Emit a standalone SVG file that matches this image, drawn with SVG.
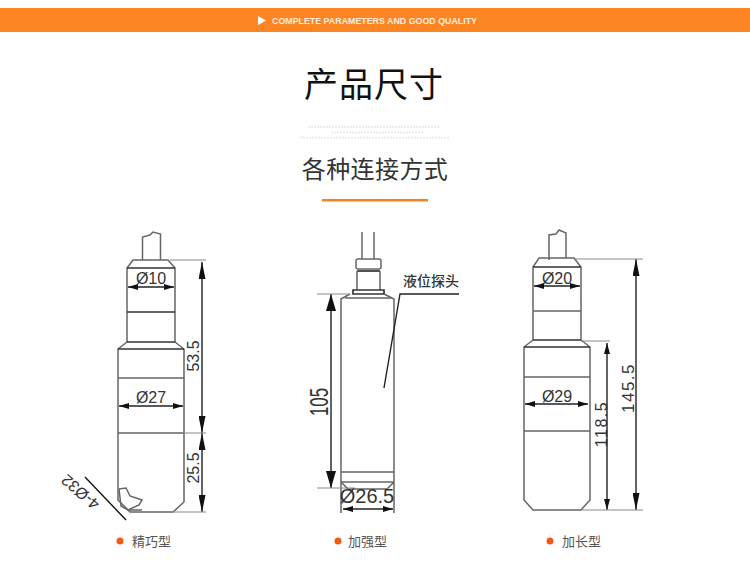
<svg xmlns="http://www.w3.org/2000/svg" width="750" height="574" viewBox="0 0 750 574">
<style>
text{font-family:"Liberation Sans","Noto Sans CJK SC",sans-serif}
.cjk{font-family:"Noto Sans CJK SC",sans-serif}
.o{fill:none;stroke:#666;stroke-width:1.5}
.h{fill:none;stroke:#333;stroke-width:1.7}
.d{fill:none;stroke:#222;stroke-width:1.4}
.e{fill:none;stroke:#888;stroke-width:1}
.t{fill:#333;font-size:16px;text-anchor:middle}
.c{font-size:13px;fill:#555}
.b{fill:#f25a12}
.g{stroke:#ececec;stroke-width:2;stroke-dasharray:2 1;fill:none}
</style>
<defs>
<marker id="a" viewBox="0 0 10 6" refX="10" refY="3" markerWidth="10" markerHeight="6" markerUnits="userSpaceOnUse" orient="auto-start-reverse"><path d="M0 0L10 3L0 6z" fill="#111"/></marker>
<marker id="l" viewBox="0 0 17 7" refX="17" refY="3.500" markerWidth="17" markerHeight="7" markerUnits="userSpaceOnUse" orient="auto-start-reverse"><path d="M0 0L17 3.500L0 7z" fill="#111"/></marker>
<marker id="w" viewBox="0 0 17 10" refX="17" refY="5" markerWidth="17" markerHeight="10" markerUnits="userSpaceOnUse" orient="auto-start-reverse"><path d="M0 0L17 5L0 10z" fill="#111"/></marker>
<marker id="s" viewBox="0 0 11 6" refX="11" refY="3" markerWidth="11" markerHeight="6" markerUnits="userSpaceOnUse" orient="auto-start-reverse"><path d="M0 0L11 3L0 6z" fill="#111"/></marker>
</defs>
<rect width="750" height="574" fill="#fff"/>
<g id="header">
<rect x="0" y="8" width="750" height="24" fill="#fd8523"/>
<path d="M258 16L266 20.500L258 25z" fill="#fff"/>
<text x="272" y="23.500" font-size="8.500" font-weight="bold" textLength="205" lengthAdjust="spacingAndGlyphs" fill="#fff" opacity=".85">COMPLETE PARAMETERS AND GOOD QUALITY</text>
<text class="cjk" x="374" y="97" font-size="34" letter-spacing="1" text-anchor="middle" fill="#111">产品尺寸</text>
<path class="g" d="M308 127H440M331 132.500H423M300 137.500H449"/>
<text class="cjk" x="375" y="178" font-size="24" letter-spacing=".4" text-anchor="middle" fill="#333">各种连接方式</text>
<rect x="322" y="199" width="106" height="2.500" fill="#f58220"/>
</g>
<g id="node-compact">
<path class="o" d="M142.500 260V237L150 235L153 232L160.500 234V260"/>
<path class="o" d="M127 342V268L133 260H168L175 268V342L184 349V502L173 512H130L118 500V349L127 342"/>
<path class="h" d="M127 268H175M127 312H175M127 342H175M118 349H184"/>
<path class="o" d="M118 378H184M118 433H184"/>
<path class="o" d="M119 489L126 488L130 496L142 500L139 505L128 510L121 506L119 489M128 510H142"/>
<text class="t" x="151" y="284">Ø10</text>
<text class="t" x="151" y="403">Ø27</text>
<text class="t" transform="translate(199 356) rotate(-90)">53.5</text>
<text class="t" transform="translate(199 468) rotate(-90)">25.5</text>
<text class="t" transform="translate(84 488) rotate(221)">4-Ø32</text>
<path d="M85 477L126 520" stroke="#111" stroke-width="1.400" fill="none"/>
<circle class="b" cx="120" cy="541" r="3.500"/>
<text class="c cjk" x="132" y="546">精巧型</text>
</g>
<g id="node-reinforced">
<path class="o" d="M362 232V259M374 232V259"/>
<rect class="o" x="356" y="259" width="25" height="10" rx="2"/>
<path class="h" d="M357 271H380"/>
<path class="o" d="M357 271V290M380 271V290"/>
<path class="h" d="M353 290H384V294H353z"/>
<path class="o" d="M350 294L341 299V513M384 294L394 299V513M341 482L348 489H387L394 482"/>
<path class="o" d="M345 298H391M341 472H394M341 482H394"/>
<text class="t" x="367" y="503" style="font-size:20px">Ø26.5</text>
<text class="t" transform="translate(328 402) rotate(-90)" style="font-size:25px" textLength="28" lengthAdjust="spacingAndGlyphs">105</text>
<text class="cjk" x="403" y="286" font-size="14" font-weight="500" fill="#333">液位探头</text>
<circle class="b" cx="338" cy="541" r="3.500"/>
<text class="c cjk" x="348" y="546">加强型</text>
</g>
<g id="node-extended">
<path class="o" d="M549 260V235L556 234L559 230L566 233V258"/>
<path class="o" d="M533 340V267L539 258H574L581 267V340L590 347V500L581 510H533L524 500V347L533 340"/>
<path class="h" d="M533 267H581M533 340H581M524 347H590"/>
<path class="o" d="M533 311H581M524 377H590M524 431H590"/>
<text class="t" x="557" y="284">Ø20</text>
<text class="t" x="557" y="402">Ø29</text>
<text class="t" transform="translate(607 424) rotate(-90)" letter-spacing="1.500">118.5</text>
<text class="t" transform="translate(634 388) rotate(-90)" letter-spacing="1.500" style="font-size:17px">145.5</text>
<circle class="b" cx="550" cy="541" r="3.500"/>
<text class="c cjk" x="562" y="546">加长型</text>
</g>
<g id="connectors">
<path class="d" d="M128 287H174" marker-start="url(#a)" marker-end="url(#a)"/>
<path class="d" d="M119 406H183" marker-start="url(#a)" marker-end="url(#a)"/>
<path class="d" d="M534 286H580" marker-start="url(#a)" marker-end="url(#a)"/>
<path class="d" d="M525 404H588" marker-start="url(#a)" marker-end="url(#a)"/>
<path class="d" d="M343 509H393" marker-start="url(#a)" marker-end="url(#a)"/>
<path class="d" d="M202 262V433" marker-start="url(#l)" marker-end="url(#l)"/>
<path class="d" d="M202 433V512" marker-start="url(#l)" marker-end="url(#l)"/>
<path class="d" d="M331 294V488" marker-start="url(#w)" marker-end="url(#w)"/>
<path class="d" d="M607 343V510" marker-start="url(#s)" marker-end="url(#s)"/>
<path class="d" d="M636 259V510" marker-start="url(#l)" marker-end="url(#l)"/>
<path class="e" d="M170 260H206M175 433H206M173 512H206M317 294H350M317 488H355M575 259H643M581 341H610M581 510H643"/>
<path class="d" d="M459 294H400L384 388"/>
</g>
</svg>
